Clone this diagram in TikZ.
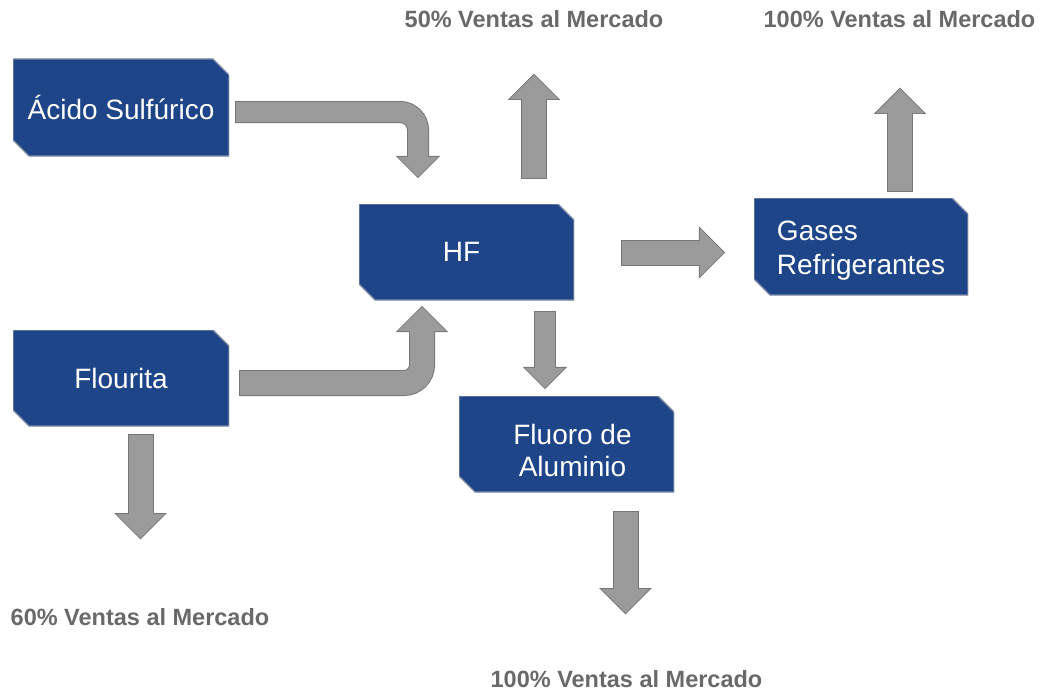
\documentclass[tikz,border=0pt]{standalone}
\usepackage{fontspec}
\setmainfont{Liberation Sans}
\usetikzlibrary{arrows.meta,calc}
\definecolor{boxblue}{RGB}{30,69,135}
\definecolor{boxedge}{RGB}{125,138,160}
\definecolor{agray}{RGB}{155,155,155}
\definecolor{aedge}{RGB}{118,118,118}
\definecolor{labgray}{RGB}{105,105,105}
\tikzset{
  box/.style={rectangle, text=white, inner sep=0pt,
    font=\fontsize{28}{32}\selectfont,
    path picture={
      \path[fill=boxblue, draw=boxedge, line width=1.2pt]
        (path picture bounding box.north west)
        -- ([xshift=-16pt]path picture bounding box.north east)
        -- ([yshift=-16pt]path picture bounding box.north east)
        -- (path picture bounding box.south east)
        -- ([xshift=16pt]path picture bounding box.south west)
        -- ([yshift=16pt]path picture bounding box.south west)
        -- cycle;}},
  lab/.style={anchor=base, inner sep=0pt, text=labgray, font=\bfseries\fontsize{23.5}{28}\selectfont},
  blkbig/.style={line width=24pt, draw=agray, rounded corners=18pt,
    -{Triangle[length=24pt,width=48pt,line width=0pt]},
    preaction={draw=aedge, line width=26pt,
      -{Triangle[length=26.4pt,width=52.8pt,line width=0pt]},
      shorten >=-1.41pt, shorten <=-1pt}},
  blksmall/.style={line width=20pt, draw=agray, rounded corners=18pt,
    -{Triangle[length=20pt,width=40pt,line width=0pt]},
    preaction={draw=aedge, line width=22pt,
      -{Triangle[length=22.4pt,width=44.8pt,line width=0pt]},
      shorten >=-1.41pt, shorten <=-1pt}},
}
\begin{document}
\begin{tikzpicture}[x=1pt,y=-1pt]
\useasboundingbox (0,0) rectangle (1041,693);
% boxes
\node[box, minimum width=216pt, minimum height=97pt] (acid) at (121,107.5) {Ácido Sulfúrico};
\node[box, minimum width=215pt, minimum height=96pt] (hf) at (466.5,252) {\hspace*{-10pt}HF};
\node[box, minimum width=216pt, minimum height=96pt] (flour) at (121,378) {Flourita};
\node[box, minimum width=214pt, minimum height=97pt] (gases) at (861,246.5)
  {\raisebox{-10pt}[0pt][0pt]{\def\arraystretch{1.06}\begin{tabular}{@{}l@{}}Gases\\Refrigerantes\end{tabular}}};
\node[box, minimum width=215pt, minimum height=96pt] (fluoro) at (566.5,444)
  {\raisebox{-16pt}[0pt][0pt]{\begin{tabular}{@{}c@{}}Fluoro de\\Aluminio\end{tabular}}\hspace*{-12pt}};
% labels
\node[lab] (lab1) at (534,28) {50\% Ventas al Mercado};
\node[lab] (lab2) at (899.5,28) {100\% Ventas al Mercado};
\node[lab] (lab3) at (140,625) {60\% Ventas al Mercado};
\node[lab] (lab4) at (626.5,687) {100\% Ventas al Mercado};
% arrows
\draw[blksmall] ($(acid.east)+(7,4.5)$) -| ($(hf.north)+(-48.5,-27)$);
\draw[blkbig] ($(flour.east)+(11,5)$) -| ($(hf.south)+(-44.5,7)$);
\draw[blkbig] ($(hf.north)+(67.5,-26)$) -- ($(lab1.base)+(0,47)$);
\draw[blkbig] ($(hf.east)+(48,0.5)$) -- ($(gases.west)+(-30,6)$);
\draw[blkbig] ($(gases.north)+(39,-7)$) -- ($(lab2.base)+(0.5,61)$);
\draw[blksmall] ($(hf.south)+(78.5,12)$) -- ($(fluoro.north)+(-21.5,-8)$);
\draw[blkbig] ($(fluoro.south)+(59,20)$) -- ($(lab4.base)+(-1,-74)$);
\draw[blkbig] ($(flour.south)+(19.5,9)$) -- ($(lab3.base)+(0.5,-87)$);
\end{tikzpicture}
\end{document}
